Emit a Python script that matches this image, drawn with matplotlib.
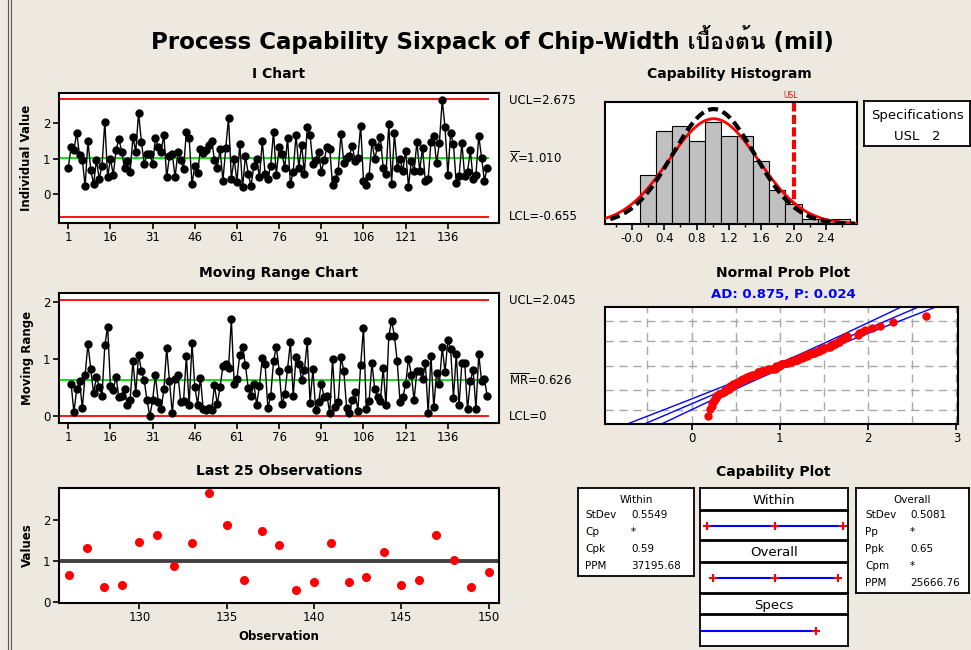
import numpy as np
import matplotlib
matplotlib.use("Agg")
import matplotlib.pyplot as plt
from matplotlib import font_manager
from matplotlib.lines import Line2D
from statistics import NormalDist
from fontTools.ttLib import TTFont


# --- Figure size in pixels ---
W, H = 971, 650
BG = "#EDE9E0"

# --- Data ---
chip_width = [
    0.75, 1.32, 1.25, 1.72, 1.10, 0.96, 0.23, 1.50, 0.68, 0.28,
    0.96, 0.44, 0.80, 2.04, 0.47, 1.00, 0.54, 1.23, 1.56, 1.20,
    0.73, 0.92, 0.63, 1.60, 1.20, 2.28, 1.48, 0.85, 1.13, 1.13,
    0.85, 1.57, 1.32, 1.20, 1.67, 0.47, 1.08, 1.13, 0.47, 1.20,
    0.96, 0.70, 1.76, 1.57, 0.28, 0.80, 0.60, 1.27, 1.15, 1.25,
    1.39, 1.50, 0.96, 0.75, 1.26, 0.38, 1.29, 2.14, 0.44, 1.00,
    0.34, 1.41, 0.19, 1.08, 0.58, 0.23, 0.80, 1.00, 0.47, 1.49,
    0.58, 0.44, 0.80, 1.76, 0.54, 1.34, 1.13, 0.75, 1.58, 0.28,
    0.63, 1.67, 0.75, 1.39, 0.58, 1.90, 1.67, 0.85, 0.96, 1.20,
    0.63, 0.96, 1.32, 1.27, 0.26, 0.42, 0.66, 1.69, 0.89, 1.03,
    1.08, 1.36, 0.94, 1.03, 1.93, 0.38, 0.26, 0.52, 1.46, 0.99,
    1.33, 1.60, 0.75, 0.56, 1.97, 0.30, 1.71, 0.75, 0.99, 0.66,
    1.22, 0.21, 0.94, 0.66, 1.46, 0.66, 1.31, 0.37, 0.42, 1.47,
    1.63, 0.87, 1.44, 2.65, 1.88, 0.55, 1.72, 1.40, 0.31, 0.50,
    1.44, 0.50, 0.62, 1.23, 0.42, 0.55, 1.64, 1.03, 0.38, 0.74,
]

hist_counts = [10, 19, 20, 17, 21, 18, 18, 13, 7, 4, 1, 1, 1]
HIST_START = 0.1
HIST_BIN = 0.2

X_BAR = 1.010
UCL_I = 2.675
LCL_I = -0.655
MR_BAR = 0.626
UCL_MR = 2.045
LCL_MR = 0.0
USL = 2.0
SD_WITHIN = 0.5549
SD_OVERALL = 0.5081

i_ticks = [1, 16, 31, 46, 61, 76, 91, 106, 121, 136]
last_ticks = [130, 135, 140, 145, 150]
hist_ticks = [0.0, 0.4, 0.8, 1.2, 1.6, 2.0, 2.4]
hist_tick_labels = ["-0.0", "0.4", "0.8", "1.2", "1.6", "2.0", "2.4"]
prob_grid_pct = [0.01, 0.10, 0.50, 0.90, 0.99]

within_stats = [("StDev", "0.5549"), ("Cp", "*"), ("Cpk", "0.59"), ("PPM", "37195.68")]
overall_stats = [("StDev", "0.5081"), ("Pp", "*"), ("Ppk", "0.65"), ("Cpm", "*"), ("PPM", "25666.76")]


def find_thai_family():
    """Looks for an installed font that has Thai glyphs."""
    for f in font_manager.fontManager.ttflist:
        try:
            tt = TTFont(f.fname, fontNumber=0, lazy=True)
            cmap = tt.getBestCmap()
            if cmap and 0x0E40 in cmap and 0x0E49 in cmap:
                return f.name
        except Exception:
            continue
    return None


thai = find_thai_family()
families = ["DejaVu Sans"] + ([thai] if thai else [])
plt.rcParams["font.family"] = families

fig = plt.figure(figsize=(W / 100, H / 100), dpi=100, facecolor=BG)


def add_axes_px(left, top, right, bottom):
    return fig.add_axes([left / W, 1 - bottom / H, (right - left) / W, (bottom - top) / H])


def text_px(x, y, s, **kw):
    return fig.text(x / W, 1 - y / H, s, **kw)


def style_axes(ax):
    for sp in ax.spines.values():
        sp.set_linewidth(1.5)
        sp.set_color("black")
    ax.tick_params(direction="out", length=4, width=1.2, labelsize=8.5, pad=2)


def plain_box(left, top, right, bottom):
    bx = add_axes_px(left, top, right, bottom)
    bx.set_xticks([])
    bx.set_yticks([])
    for sp in bx.spines.values():
        sp.set_linewidth(1.3)
    return bx


# left window border
for x in (8, 11):
    fig.add_artist(Line2D([x / W, x / W], [0, 1], color="#555555", lw=0.8))

text_px(492, 40, "Process Capability Sixpack of Chip-Width เบื้องต้น (mil)",
        ha="center", va="center", fontsize=16.5, fontweight="bold")

n = len(chip_width)
obs = np.arange(1, n + 1)
X_LEFT, X_RIGHT = -2.3, 154.2

# --- I Chart ---
ax = add_axes_px(59, 93, 499, 223)
ax.hlines([UCL_I, LCL_I], X_LEFT, 150.8, colors="red", lw=1.3, zorder=1)
ax.hlines(X_BAR, X_LEFT, 150.8, colors="#00DD00", lw=1.3, zorder=1)
ax.plot(obs, chip_width, "-o", color="black", lw=1, ms=5, zorder=3)
ax.set_xlim(X_LEFT, X_RIGHT)
ax.set_ylim(-0.81, 2.845)
ax.set_xticks(i_ticks)
ax.set_yticks([0, 1, 2])
style_axes(ax)
text_px(279, 74, "I Chart", ha="center", va="center", fontsize=10, fontweight="bold")
text_px(27, 158, "Individual Value", ha="center", va="center", rotation=90,
        fontsize=8.5, fontweight="bold")
text_px(509, 101, f"UCL={UCL_I:.3f}", va="center", fontsize=8.5)
text_px(509, 158, r"$\overline{\mathrm{X}}$" + f"={X_BAR:.3f}", va="center", fontsize=8.5)
text_px(509, 216, f"LCL={LCL_I:.3f}", va="center", fontsize=8.5)

# --- Moving Range Chart ---
mr = np.abs(np.diff(chip_width))
ax = add_axes_px(59, 293, 499, 423)
ax.hlines([UCL_MR, LCL_MR], X_LEFT, 150.8, colors="red", lw=1.3, zorder=1)
ax.hlines(MR_BAR, X_LEFT, 150.8, colors="#00DD00", lw=1.3, zorder=1)
ax.plot(obs[1:], mr, "-o", color="black", lw=1, ms=5, zorder=3)
ax.set_xlim(X_LEFT, X_RIGHT)
ax.set_ylim(-0.12, 2.16)
ax.set_xticks(i_ticks)
ax.set_yticks([0, 1, 2])
style_axes(ax)
text_px(279, 273, "Moving Range Chart", ha="center", va="center", fontsize=10, fontweight="bold")
text_px(27, 358, "Moving Range", ha="center", va="center", rotation=90,
        fontsize=8.5, fontweight="bold")
text_px(509, 301, f"UCL={UCL_MR:.3f}", va="center", fontsize=8.5)
text_px(509, 380, r"$\overline{\mathrm{MR}}$" + f"={MR_BAR:.3f}", va="center", fontsize=8.5)
text_px(509, 416, "LCL=0", va="center", fontsize=8.5)

# --- Last 25 Observations ---
last_obs = obs[-25:]
last_vals = chip_width[-25:]
ax = add_axes_px(59, 488, 499, 603)
ax.axhline(X_BAR, color="#404040", lw=2.8, zorder=1)
ax.plot(last_obs, last_vals, "o", color="red", ms=5.5, zorder=3)
ax.set_xlim(125.4, 150.6)
ax.set_ylim(-0.015, 2.77)
ax.set_xticks(last_ticks)
ax.set_yticks([0, 1, 2])
style_axes(ax)
text_px(279, 471, "Last 25 Observations", ha="center", va="center", fontsize=10, fontweight="bold")
text_px(279, 637, "Observation", ha="center", va="center", fontsize=8.5, fontweight="bold")
text_px(27, 545, "Values", ha="center", va="center", rotation=90, fontsize=8.5, fontweight="bold")

# --- Capability Histogram ---
ax = add_axes_px(605, 102, 857, 224)
edges = HIST_START + HIST_BIN * np.arange(len(hist_counts))
ax.axvline(USL, color="red", lw=3, ls=(0, (2.2, 0.8)), zorder=1)
ax.bar(edges, hist_counts, width=HIST_BIN, align="edge", color="#C0C0C0",
       edgecolor="black", lw=0.8, zorder=2)
xs = np.linspace(-0.335, 2.786, 300)
scale = n * HIST_BIN
pdf_w = np.exp(-0.5 * ((xs - X_BAR) / SD_WITHIN) ** 2) / (SD_WITHIN * np.sqrt(2 * np.pi))
ax.plot(xs, scale * pdf_w, color="red", lw=2, zorder=3)
xs2 = np.linspace(-0.27, 2.76, 300)
pdf_o = np.exp(-0.5 * ((xs2 - X_BAR) / SD_OVERALL) ** 2) / (SD_OVERALL * np.sqrt(2 * np.pi))
ax.plot(xs2, scale * pdf_o, color="black", lw=3, ls=(0, (2.4, 1.2)), zorder=4)
ax.set_xlim(-0.335, 2.786)
ax.set_ylim(0, 25)
ax.set_xticks(hist_ticks)
ax.set_xticklabels(hist_tick_labels)
ax.set_xticks(np.arange(-0.2, 2.8, 0.4), minor=True)
ax.set_yticks([])
style_axes(ax)
ax.tick_params(which="minor", length=2, width=1)
text_px(729, 74, "Capability Histogram", ha="center", va="center", fontsize=10, fontweight="bold")
text_px(791, 96, "USL", ha="center", va="center", fontsize=5.5, color="red")

bx = plain_box(864, 101, 970, 146)
text_px(917, 116, "Specifications", ha="center", va="center", fontsize=9.5)
text_px(917, 136, "USL   2", ha="center", va="center", fontsize=9.5)

# --- Normal Prob Plot ---
ax = add_axes_px(605, 307, 958, 424)
nd = NormalDist()
for gx in np.arange(-0.5, 3.01, 0.5):
    ax.axvline(gx, color="#A8A8A8", lw=1, ls=(0, (6, 4)), zorder=0)
for p in prob_grid_pct:
    ax.axhline(nd.inv_cdf(p), color="#A8A8A8", lw=1, ls=(0, (6, 4)), zorder=0)
z = np.linspace(-3.2, 3.2, 200)
fit = X_BAR + SD_OVERALL * z
band = 1.96 * SD_OVERALL * np.sqrt(1 / n + z ** 2 / (2 * (n - 1)))
for line in (fit - band, fit, fit + band):
    ax.plot(line, z, color="#0000FF", lw=1, zorder=2)
sorted_vals = np.sort(chip_width)
pos = [nd.inv_cdf((i - 0.3) / (n + 0.4)) for i in range(1, n + 1)]
ax.plot(sorted_vals, pos, "o", color="red", ms=5, zorder=3)
ax.set_xlim(-0.98, 3.018)
ax.set_ylim(-3.04, 3.07)
ax.set_xticks([0, 1, 2, 3])
ax.set_yticks([])
style_axes(ax)
text_px(783, 273, "Normal Prob Plot", ha="center", va="center", fontsize=10, fontweight="bold")
text_px(783, 294, "AD: 0.875, P: 0.024", ha="center", va="center", fontsize=9.5,
        fontweight="bold", color="#0000FF")

# --- Capability Plot ---
text_px(773, 472, "Capability Plot", ha="center", va="center", fontsize=10, fontweight="bold")
CAP_LEFT, CAP_RIGHT = -0.82, 2.79


def cap_panel(header, top, mid, bottom, xs_line, ticks):
    plain_box(700, top, 848, mid)
    text_px(774, (top + mid) / 2 + 1, header, ha="center", va="center", fontsize=9.5)
    pa = plain_box(700, mid + 1, 848, bottom)
    pa.set_xlim(CAP_LEFT, CAP_RIGHT)
    pa.set_ylim(0, 1)
    pa.plot(xs_line, [0.5, 0.5], color="#0000FF", lw=1.5, zorder=2)
    pa.plot(ticks, [0.5] * len(ticks), "+", color="red", ms=6, mew=1.5, zorder=3)


cap_panel("Within", 488, 510, 540,
          [X_BAR - 3 * SD_WITHIN, X_BAR + 3 * SD_WITHIN],
          [X_BAR - 3 * SD_WITHIN, X_BAR, X_BAR + 3 * SD_WITHIN])
cap_panel("Overall", 541, 562, 593,
          [X_BAR - 3 * SD_OVERALL, X_BAR + 3 * SD_OVERALL],
          [X_BAR - 3 * SD_OVERALL, X_BAR, X_BAR + 3 * SD_OVERALL])
cap_panel("Specs", 594, 614, 646, [CAP_LEFT, USL], [USL])

plain_box(578, 488, 694, 576)
text_px(636, 500, "Within", ha="center", va="center", fontsize=7.5)
for k, (lab, val) in enumerate(within_stats):
    y = 515 + k * 17
    text_px(585, y, lab, va="center", fontsize=7.5)
    text_px(631, y, val, va="center", fontsize=7.5)

plain_box(856, 488, 969, 593)
text_px(912, 500, "Overall", ha="center", va="center", fontsize=7.5)
for k, (lab, val) in enumerate(overall_stats):
    y = 515 + k * 17
    text_px(865, y, lab, va="center", fontsize=7.5)
    text_px(910, y, val, va="center", fontsize=7.5)

fig.savefig("out.png", dpi=100, facecolor=BG)
